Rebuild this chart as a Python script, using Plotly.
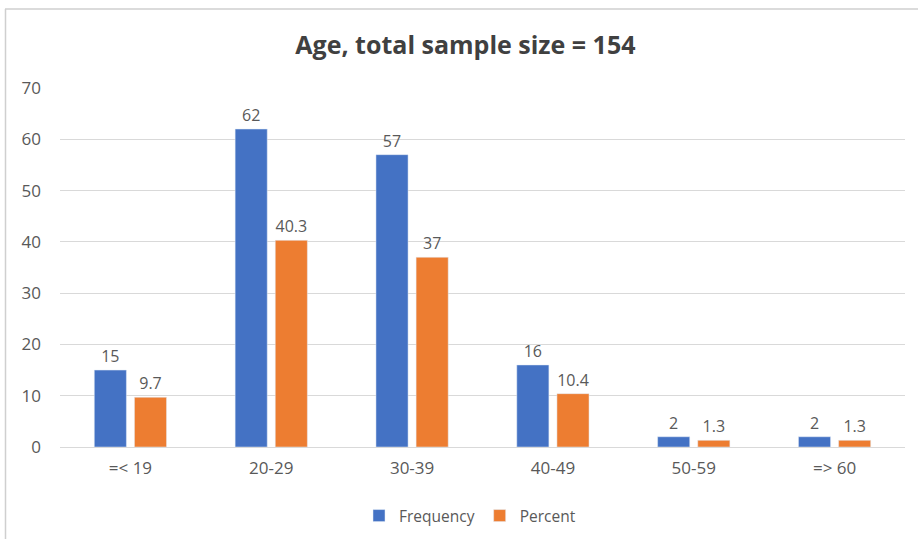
import plotly.graph_objects as go

categories = ["=< 19", "20-29", "30-39", "40-49", "50-59", "=> 60"]
frequency = [15, 62, 57, 16, 2, 2]
percent = [9.7, 40.3, 37, 10.4, 1.3, 1.3]
freq_labels = ["15", "62", "57", "16", "2", "2"]
pct_labels = ["9.7", "40.3", "37", "10.4", "1.3", "1.3"]

W, H = 918, 539
ml, mr, mt, mb = 60, 13, 88, 92
pw = W - ml - mr
ph = H - mt - mb

def px_x(p):
    return (p - ml) / pw

def px_y(p):
    return (H - mb - p) / ph

txt = "#595959"
font = "Open Sans, Liberation Sans, sans-serif"

fig = go.Figure()
fig.add_trace(go.Bar(x=categories, y=frequency, name="Frequency",
                     marker_color="#4472C4", text=freq_labels,
                     textposition="outside", cliponaxis=False,
                     textfont=dict(size=16, color=txt, family=font)))
fig.add_trace(go.Bar(x=categories, y=percent, name="Percent",
                     marker_color="#ED7D31", text=pct_labels,
                     textposition="outside", cliponaxis=False,
                     textfont=dict(size=16, color=txt, family=font)))

fig.update_layout(
    width=W, height=H,
    margin=dict(l=ml, r=mr, t=mt, b=mb, autoexpand=False),
    paper_bgcolor="white", plot_bgcolor="white",
    barmode="group", bargap=0.43, bargroupgap=0.2,
    title=dict(text="<b>Age, total sample size = 154</b>", x=0.507, xanchor="center",
               y=1 - 45 / H, yanchor="middle",
               font=dict(size=25, color="#404040", family=font)),
    font=dict(family=font, color=txt, size=16),
    legend=dict(orientation="h", x=px_x(470), xanchor="center", y=px_y(516), yanchor="middle",
                font=dict(size=15.5, color=txt, family=font), itemwidth=30,
                traceorder="normal"),
    shapes=[
        dict(type="line", xref="paper", yref="paper", x0=px_x(5), x1=px_x(930),
             y0=px_y(9), y1=px_y(9), line=dict(color="#CFCFCF", width=1.5)),
        dict(type="line", xref="paper", yref="paper", x0=px_x(5.5), x1=px_x(5.5),
             y0=px_y(9), y1=px_y(545), line=dict(color="#CFCFCF", width=1.5)),
    ],
)
fig.update_yaxes(range=[0, 70], dtick=10, showgrid=True, gridcolor="#D9D9D9",
                 gridwidth=1, zeroline=False, showline=False, ticks="",
                 ticklabelstandoff=18,
                 tickfont=dict(size=17, color=txt, family=font))
fig.update_xaxes(showline=True, linecolor="#D9D9D9", linewidth=1, ticks="",
                 ticklabelstandoff=6,
                 tickfont=dict(size=17, color=txt, family=font))

fig.write_html("out.html", config={"displayModeBar": False},
               post_script="document.body.style.margin='0';document.body.style.padding='0';")
